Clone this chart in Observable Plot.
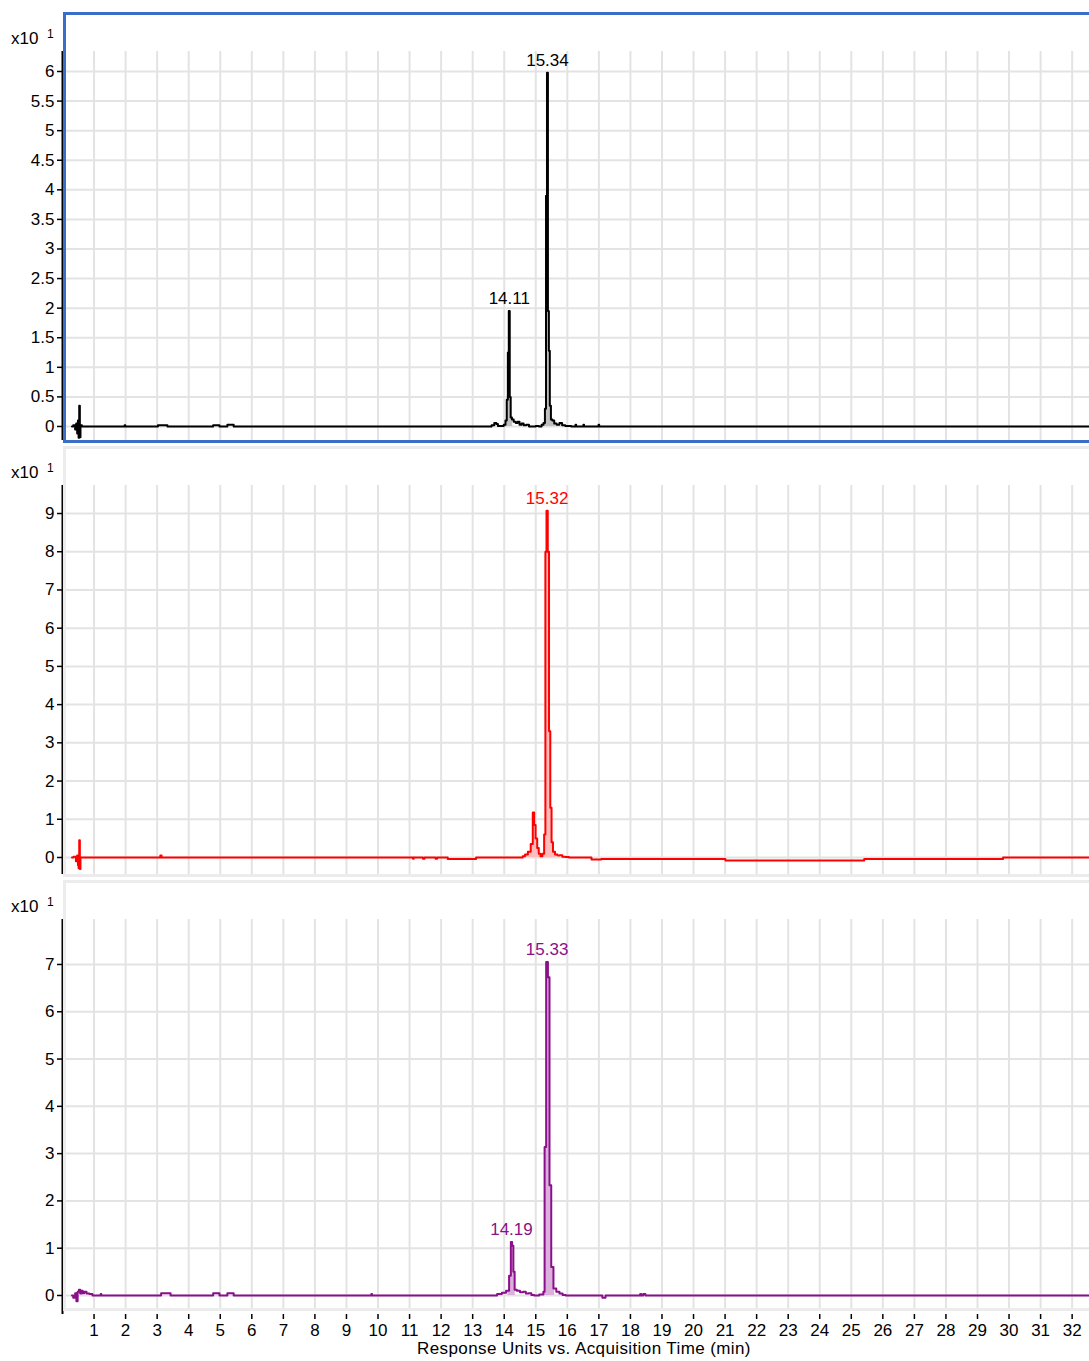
<!DOCTYPE html>
<html>
<head>
<meta charset="utf-8">
<script src="https://cdn.jsdelivr.net/npm/d3@7"></script>
<script src="https://cdn.jsdelivr.net/npm/@observablehq/plot@0.6"></script>
<style>
  html, body { margin: 0; padding: 0; background: #fff; }
  #wrap { position: relative; width: 1089px; height: 1361px; overflow: hidden; font-family: "Liberation Sans", Arial, sans-serif; }
  .pnl { position: absolute; left: 0; }
  #overlay { position: absolute; left: 0; top: 0; pointer-events: none; }
</style>
</head>
<body>
<div id="wrap"></div>
<script>
// ---------- shared axis values ----------
const xDomain = [0, 32.55];
const xTicks = [1,2,3,4,5,6,7,8,9,10,11,12,13,14,15,16,17,18,19,20,21,22,23,24,25,26,27,28,29,30,31,32];
const xTitle = "Response Units vs. Acquisition Time (min)";
const yExponent = "1";

// ---------- panel 1 (black trace) ----------
const yTicksTop = [0,0.5,1,1.5,2,2.5,3,3.5,4,4.5,5,5.5,6];
const timeTop = [0.30,0.38,0.42,0.45,0.48,0.50,0.52,0.54,0.56,0.58,0.65,
  1.96,1.98,2.00,3.00,3.05,3.30,3.35,4.75,4.80,4.95,5.00,5.20,5.25,5.40,5.45,
  13.55,13.65,13.72,13.78,13.82,13.95,14.02,14.06,14.10,14.13,14.16,14.19,14.22,14.27,14.33,14.40,14.45,14.52,14.58,14.65,14.75,14.82,14.95,
  15.05,15.15,15.22,15.27,15.31,15.34,15.37,15.40,15.43,15.46,15.50,15.55,15.62,15.70,15.80,15.87,16.00,
  16.25,16.27,16.29,16.50,16.52,16.54,16.98,17.00,17.02,32.55];
const respTop = [0,0.02,-0.05,0.05,-0.12,0.10,-0.19,0.35,-0.18,0.02,0,
  0,0.02,0,0,0.02,0.02,0,0,0.02,0.02,0,0,0.03,0.03,0,
  0,0.02,0.06,0.04,0.01,0.01,0.03,0.10,0.45,1.25,1.95,0.50,0.15,0.12,0.08,0.06,0.08,0.03,0.05,0.02,0.03,0,0,
  0.01,0,0.03,0.06,0.30,3.90,5.98,1.95,1.28,0.35,0.12,0.10,0.05,0.03,0.06,0.02,0.01,
  0,0.03,0,0,0.03,0,0,0.03,0,0];
const areasTop = [[14.02, 14.30], [15.22, 15.62]];
const peakTimesTop = [14.16, 15.37];
const peakRespTop = [1.95, 5.98];
const peakTextTop = ["14.11", "15.34"];

// ---------- panel 2 (red trace) ----------
const yTicksMid = [0,1,2,3,4,5,6,7,8,9];
const timeMid = [0.30,0.40,0.45,0.48,0.50,0.52,0.54,0.56,0.58,0.65,
  3.08,3.12,3.16,11.10,11.12,11.14,11.40,11.45,11.50,11.80,11.85,11.90,12.20,12.22,13.10,13.12,
  14.55,14.62,14.70,14.80,14.88,14.93,14.97,15.02,15.07,15.12,15.18,15.24,15.29,15.32,15.36,15.40,15.44,15.48,15.52,15.57,15.65,15.72,15.80,15.88,16.00,16.10,
  16.75,16.78,17.05,17.10,21.00,21.02,25.40,25.42,29.80,29.82,32.55];
const respMid = [0,0.02,-0.10,0.05,-0.20,-0.28,0.45,-0.30,0,0,
  0,0.05,0,0,-0.03,0,0,-0.03,0,0,-0.03,0,0,-0.04,-0.04,0,
  0,0.03,0.08,0.15,0.35,1.18,0.85,0.50,0.25,0.10,0.03,0.10,0.60,8.00,9.07,8.00,3.30,1.30,0.40,0.15,0.08,0.05,0.06,0.02,0.01,0,
  0,-0.05,-0.05,-0.04,-0.04,-0.08,-0.08,-0.04,-0.04,0,0];
const areasMid = [[14.60, 15.20], [15.20, 15.70]];
const peakTimesMid = [15.36];
const peakRespMid = [9.07];
const peakTextMid = ["15.32"];

// ---------- panel 3 (purple trace) ----------
const yTicksBot = [0,1,2,3,4,5,6,7];
const timeBot = [0.30,0.38,0.42,0.46,0.50,0.54,0.58,0.62,0.66,0.72,0.80,0.90,1.00,
  1.20,1.22,1.24,3.10,3.15,3.40,3.45,4.75,4.80,4.95,5.00,5.20,5.25,5.40,5.45,
  9.78,9.80,9.82,13.70,13.85,14.00,14.12,14.19,14.23,14.27,14.31,14.35,14.45,14.55,14.65,14.72,14.82,14.90,15.00,
  15.22,15.26,15.30,15.36,15.41,15.46,15.52,15.60,15.70,15.80,15.90,16.00,
  17.10,17.12,17.20,17.22,18.30,18.32,18.36,18.45,18.50,32.55];
const respBot = [0,-0.05,0.05,-0.12,0.08,0.12,0.04,0.10,0.05,0.08,0.04,0.03,0,
  0,0.03,0,0,0.05,0.05,0,0,0.05,0.05,0,0,0.05,0.05,0,
  0,0.03,0,0,0.03,0.06,0.10,0.42,1.13,1.05,0.50,0.12,0.10,0.07,0.08,0.04,0.05,0.01,0,
  0.02,0.08,3.14,7.05,6.73,2.33,0.60,0.15,0.08,0.04,0.01,0,
  0,-0.05,-0.05,0,0,0.03,0,0.03,0,0];
const areasBot = [[14.10, 14.37], [15.24, 15.66]];
const peakTimesBot = [14.23, 15.36];
const peakRespBot = [1.13, 7.05];
const peakTextBot = ["14.19", "15.33"];

// ---------- drawing ----------
const FONT = '"Liberation Sans", Arial, sans-serif';
const wrap = document.getElementById("wrap");

function panel(cfg) {
  const data = cfg.times.map((t, i) => ({t, v: cfg.values[i]}));
  const labels = cfg.peakTimes.map((t, i) => ({t, v: cfg.peakValues[i], text: cfg.peakText[i]}));
  const marks = [
    Plot.ruleY(cfg.yTicks, {stroke: "#e3e3e3", strokeWidth: 2}),
    Plot.ruleX(xTicks, cfg.gridBottom != null
      ? {y1: cfg.gridBottom, y2: cfg.yDomain[1], stroke: "#e3e3e3", strokeWidth: 2}
      : {stroke: "#e3e3e3", strokeWidth: 2}),
    ...cfg.areas.map(([a, b]) => Plot.areaY(data.filter(d => d.t >= a && d.t <= b),
      {x: "t", y: "v", fill: cfg.fill, curve: "step"})),
    Plot.lineY(data, {x: "t", y: "v", stroke: cfg.color, strokeWidth: 2, curve: "step"}),
    Plot.ruleX([xDomain[0]], {stroke: "#000", strokeWidth: 2}),
    Plot.axisY({ticks: cfg.yTicks, tickSize: 5, tickPadding: 3, label: null,
      tickFormat: d => String(d), fontSize: 17, strokeWidth: 1.5}),
    Plot.text(labels, {x: "t", y: "v", text: "text", fill: cfg.color, fontSize: 17,
      lineAnchor: "bottom", dy: -7})
  ];
  if (cfg.xAxis) {
    marks.push(Plot.axisX({ticks: xTicks, tickSize: 5, tickPadding: 4, label: null,
      tickFormat: d => String(d), fontSize: 17, strokeWidth: 1.5}));
  }
  const chart = Plot.plot({
    width: 1089,
    height: cfg.height,
    marginLeft: 62,
    marginRight: 0,
    marginTop: 39,
    marginBottom: cfg.marginBottom,
    x: {domain: xDomain, axis: cfg.xAxis ? undefined : null, label: null},
    y: {domain: cfg.yDomain, label: null},
    style: {fontFamily: FONT, fontSize: "17px", color: "#000", background: "transparent", overflow: "visible"},
    marks
  });
  chart.classList.add("pnl");
  chart.style.top = cfg.top + "px";
  wrap.appendChild(chart);
}

panel({top: 12, height: 431, marginBottom: 3, yDomain: [-0.237, 6.338], yTicks: yTicksTop,
  times: timeTop, values: respTop, color: "#000000", fill: "#c0c0c0", areas: areasTop,
  peakTimes: peakTimesTop, peakValues: peakRespTop, peakText: peakTextTop, xAxis: false});
panel({top: 446, height: 431, marginBottom: 3, yDomain: [-0.445, 9.733], yTicks: yTicksMid,
  times: timeMid, values: respMid, color: "#ff0000", fill: "#ffbcbc", areas: areasMid,
  peakTimes: peakTimesMid, peakValues: peakRespMid, peakText: peakTextMid, xAxis: false});
panel({top: 880, height: 481, marginBottom: 47, yDomain: [-0.402, 7.951], gridBottom: -0.275, yTicks: yTicksBot,
  times: timeBot, values: respBot, color: "#8a0f8a", fill: "#dcb0dc", areas: areasBot,
  peakTimes: peakTimesBot, peakValues: peakRespBot, peakText: peakTextBot, xAxis: true});

// ---------- decorations: panel frames, exponent labels, axis title ----------
const ns = "http://www.w3.org/2000/svg";
const ov = document.createElementNS(ns, "svg");
ov.setAttribute("id", "overlay");
ov.setAttribute("width", 1089);
ov.setAttribute("height", 1361);
const frameTops = [12, 446, 880];
const frameColors = ["#3a6dc8", "#ececec", "#ececec"];
frameTops.forEach((ft, i) => {
  const r = document.createElementNS(ns, "rect");
  r.setAttribute("x", 64.5); r.setAttribute("y", ft + 1.5);
  r.setAttribute("width", 1100); r.setAttribute("height", 428);
  r.setAttribute("fill", "none"); r.setAttribute("stroke", frameColors[i]);
  r.setAttribute("stroke-width", 3);
  ov.appendChild(r);
  const t = document.createElementNS(ns, "text");
  t.setAttribute("x", 11); t.setAttribute("y", ft + 31.5);
  t.setAttribute("font-family", FONT); t.setAttribute("font-size", 17);
  t.textContent = "x10";
  ov.appendChild(t);
  const s = document.createElementNS(ns, "text");
  s.setAttribute("x", 47); s.setAttribute("y", ft + 25.5);
  s.setAttribute("font-family", FONT); s.setAttribute("font-size", 12);
  s.textContent = yExponent;
  ov.appendChild(s);
});
const title = document.createElementNS(ns, "text");
title.setAttribute("x", 584); title.setAttribute("y", 1354);
title.setAttribute("text-anchor", "middle");
title.setAttribute("font-family", FONT); title.setAttribute("font-size", 17);
title.setAttribute("letter-spacing", "0.4");
title.textContent = xTitle;
ov.appendChild(title);
wrap.appendChild(ov);
</script>
</body>
</html>
